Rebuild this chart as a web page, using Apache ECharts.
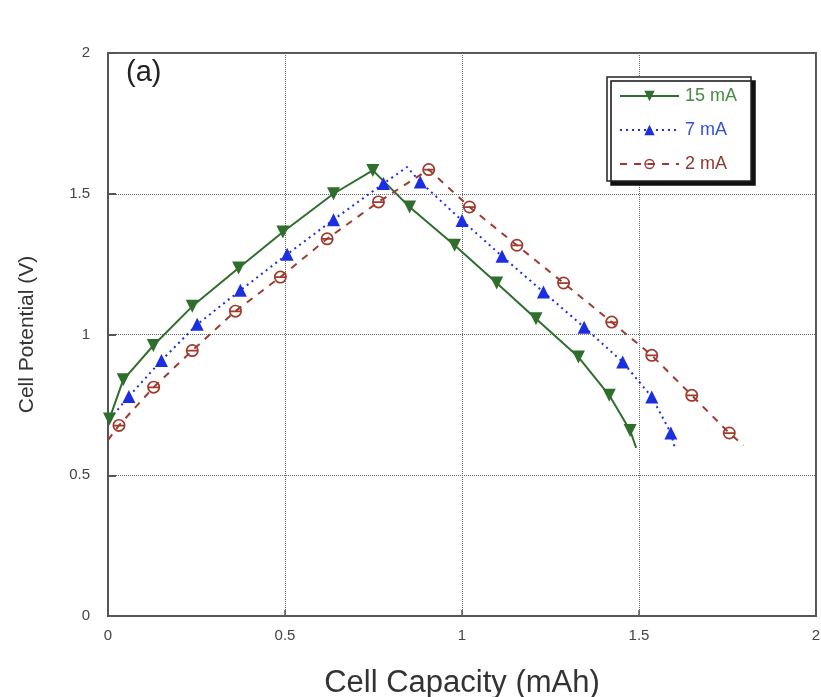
<!DOCTYPE html>
<html>
<head>
<meta charset="utf-8">
<script src="https://cdn.jsdelivr.net/npm/echarts@6/dist/echarts.min.js"></script>
<style>
  html, body { margin: 0; padding: 0; background: #fff; }
  #chart { width: 821px; height: 697px; }
</style>
</head>
<body>
<div id="chart"></div>
<script>
// Marked measurement points (capacity in mAh, potential in V)
const cap15 = [0.004, 0.043, 0.128, 0.238, 0.369, 0.494, 0.637, 0.748, 0.852, 0.979, 1.098, 1.209, 1.329, 1.416, 1.475];
const volt15 = [0.70, 0.839, 0.961, 1.10, 1.236, 1.364, 1.500, 1.583, 1.453, 1.317, 1.183, 1.056, 0.920, 0.784, 0.659];
// Unmarked points of the same trace (curve ends)
const trace15Cap = [1.492];
const trace15Volt = [0.597];

const cap7 = [0.059, 0.151, 0.252, 0.374, 0.506, 0.637, 0.778, 0.882, 1.000, 1.113, 1.230, 1.345, 1.454, 1.536, 1.590];
const volt7 = [0.780, 0.908, 1.036, 1.157, 1.285, 1.408, 1.536, 1.542, 1.405, 1.278, 1.151, 1.026, 0.902, 0.778, 0.650];
const trace7Cap = [0.005, 0.845, 1.602];
const trace7Volt = [0.700, 1.595, 0.594];

const cap2 = [0.031, 0.129, 0.238, 0.360, 0.487, 0.619, 0.764, 0.906, 1.021, 1.155, 1.287, 1.423, 1.536, 1.649, 1.755];
const volt2 = [0.677, 0.813, 0.943, 1.083, 1.204, 1.340, 1.471, 1.586, 1.453, 1.317, 1.183, 1.044, 0.926, 0.784, 0.650];
const trace2Cap = [0.0, 1.795];
const trace2Volt = [0.625, 0.606];

const seriesNames = ['15 mA', '7 mA', '2 mA'];
const xTicks = [0, 0.5, 1, 1.5, 2];
const yTicks = [0, 0.5, 1, 1.5, 2];

// Merge marked and unmarked points into one trace ordered by capacity
function buildTrace(mc, mv, tc, tv) {
  const pts = [];
  mc.forEach((c, i) => pts.push({ value: [c, mv[i]] }));
  tc.forEach((c, i) => pts.push({ value: [c, tv[i]], symbol: 'none' }));
  pts.sort((a, b) => a.value[0] - b.value[0]);
  return pts;
}

// Open circle with a horizontal bar through it
const barCircle = 'path://M0,-10A10,10 0 1,1 0,10A10,10 0 1,1 0,-10Z M0,-7.4A7.4,7.4 0 1,0 0,7.4A7.4,7.4 0 1,0 0,-7.4Z M-7.4,-1.1H7.4V1.6H-7.4Z';

const GREEN = '#2f6e2c';
const BLUE = '#1b2fe0';
const RED = '#a03a2e';

const chart = echarts.init(document.getElementById('chart'), null, { renderer: 'canvas' });
const fontFamily = '"Liberation Sans", Arial, Helvetica, sans-serif';

chart.setOption({
  animation: false,
  textStyle: { fontFamily },
  grid: {
    left: 108, right: 5, top: 53, bottom: 81,
    outerBoundsMode: 'none', containLabel: false,
    show: true, borderColor: '#555', borderWidth: 2, backgroundColor: 'transparent'
  },
  graphic: [{
    type: 'text', left: 126, top: 58,
    style: { text: '(a)', font: '29px ' + fontFamily, fill: '#222' }
  }],
  legend: {
    orient: 'vertical',
    left: 607, top: 77,
    padding: [10, 14, 8, 12],
    itemWidth: 59, itemHeight: 13, itemGap: 16,
    backgroundColor: '#fff',
    borderColor: '#222', borderWidth: 1.5,
    shadowColor: '#111', shadowOffsetX: 4, shadowOffsetY: 4, shadowBlur: 0,
    textStyle: { fontSize: 18, padding: [0, 0, 0, 1] },
    data: [
      { name: seriesNames[0], textStyle: { color: '#4b8a43' } },
      { name: seriesNames[1], textStyle: { color: '#3350e0' } },
      { name: seriesNames[2], textStyle: { color: '#8e3a30' } }
    ]
  },
  xAxis: {
    type: 'value', min: xTicks[0], max: xTicks[xTicks.length - 1], interval: 0.5,
    name: 'Cell Capacity (mAh)', nameLocation: 'middle', nameGap: 52,
    nameTextStyle: { fontSize: 31, color: '#333' },
    axisLine: { show: true, lineStyle: { color: '#555', width: 2 } },
    axisTick: { show: true, inside: true, length: 6, lineStyle: { color: '#555', width: 1.5 } },
    axisLabel: { fontSize: 15, color: '#444', margin: 12 },
    splitLine: { show: true, lineStyle: { color: '#666', type: 'dotted', width: 1 } }
  },
  yAxis: {
    type: 'value', min: yTicks[0], max: yTicks[yTicks.length - 1], interval: 0.5,
    name: 'Cell Potential (V)', nameLocation: 'middle', nameGap: 70,
    nameTextStyle: { fontSize: 21, color: '#333' },
    axisLine: { show: true, lineStyle: { color: '#555', width: 2 } },
    axisTick: { show: true, inside: true, length: 8, lineStyle: { color: '#555', width: 2 } },
    axisLabel: { fontSize: 15, color: '#444', margin: 18 },
    splitLine: { show: true, lineStyle: { color: '#666', type: 'dotted', width: 1 } }
  },
  series: [
    {
      name: seriesNames[0], type: 'line',
      data: buildTrace(cap15, volt15, trace15Cap, trace15Volt),
      symbol: 'triangle', symbolRotate: 180, symbolSize: 13,
      lineStyle: { color: GREEN, width: 2, type: 'solid' },
      itemStyle: { color: GREEN }
    },
    {
      name: seriesNames[1], type: 'line',
      data: buildTrace(cap7, volt7, trace7Cap, trace7Volt),
      symbol: 'triangle', symbolSize: 13,
      lineStyle: { color: BLUE, width: 2, type: [2, 4] },
      itemStyle: { color: BLUE }
    },
    {
      name: seriesNames[2], type: 'line',
      data: buildTrace(cap2, volt2, trace2Cap, trace2Volt),
      symbol: barCircle, symbolSize: 13,
      lineStyle: { color: RED, width: 2, type: [7, 7] },
      itemStyle: { color: RED }
    }
  ]
});
</script>
</body>
</html>
